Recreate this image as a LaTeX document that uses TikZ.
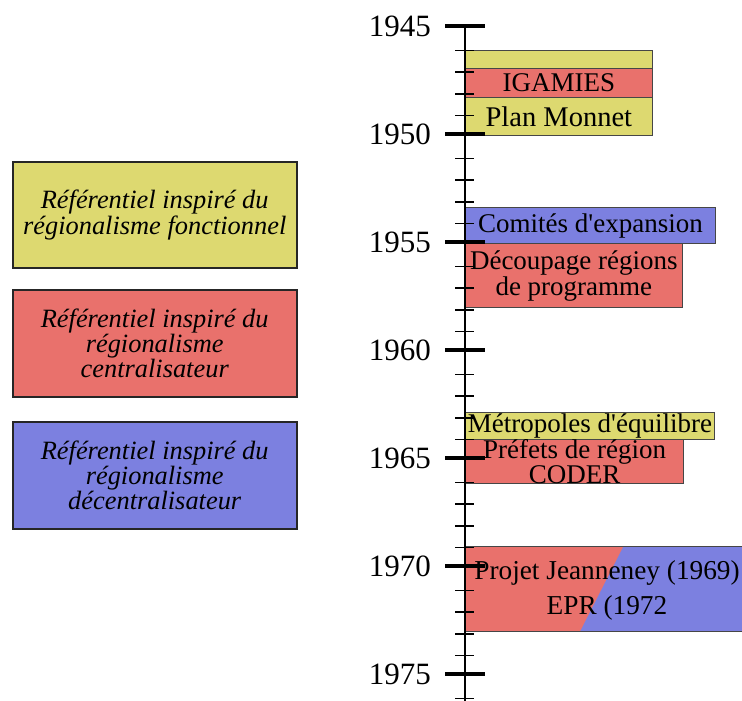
\documentclass[tikz,border=0pt]{standalone}
\usepackage{fontspec}
\setmainfont{Liberation Serif}
\definecolor{jaune}{RGB}{221,217,112}
\definecolor{rouge}{RGB}{233,113,108}
\definecolor{bleu}{RGB}{124,128,224}
\definecolor{bord}{RGB}{70,70,70}
\begin{document}
\begin{tikzpicture}[x=1pt,y=-1pt,
  tbox/.style={draw=bord, line width=1pt, inner sep=0pt, align=center, anchor=north west,
    font=\fontsize{27}{22}\selectfont},
  lbox/.style={draw=black!85, line width=1.8pt, inner sep=0pt, align=center,
    minimum width=284pt, minimum height=106.6pt, font=\fontsize{26.4}{21.7}\selectfont\itshape},
  year/.style={anchor=east, inner sep=0pt, font=\fontsize{31}{31}\selectfont},
  major/.style={line width=4pt},
  minor/.style={line width=1.5pt}]
\useasboundingbox (0,0) rectangle (742,701);
% legend boxes
\node[lbox, fill=jaune] (lf) at (154.7,215) {Référentiel inspiré du\\régionalisme fonctionnel};
\node[lbox, fill=rouge] (lc) at (154.7,343.3) {Référentiel inspiré du\\régionalisme\\centralisateur};
\node[lbox, fill=bleu] (ld) at (154.7,475.5) {Référentiel inspiré du\\régionalisme\\décentralisateur};
% timeline boxes
\node[tbox, fill=jaune, minimum width=186.7pt, minimum height=18.3pt] (y1) at (465,50) {};
\node[tbox, fill=rouge, minimum width=186.7pt, minimum height=28.4pt] (igamies) at (465,68.3) {IGAMIES};
\node[tbox, fill=jaune, minimum width=186.7pt, minimum height=38.3pt, font=\fontsize{28.5}{22}\selectfont] (monnet) at (465,96.7) {Plan Monnet};
\node[tbox, fill=bleu, minimum width=250pt, minimum height=36pt] (comites) at (465,207.3) {Comités d\textquotesingle expansion};
\node[tbox, fill=rouge, minimum width=216.7pt, minimum height=64pt] (decoupage) at (465,243.3) {Découpage régions\\de programme};
\node[tbox, fill=jaune, minimum width=249pt, minimum height=27.6pt] (metropoles) at (465,411.7) {Métropoles d\textquotesingle équilibre};
\node[tbox, fill=rouge, minimum width=218.3pt, minimum height=43.4pt] (prefets) at (465,439.3) {Préfets de région\\CODER};
% split box
\fill[rouge] (465,546.7) rectangle (750,631.7);
\fill[bleu] (623.3,546.7) -- (750,546.7) -- (750,631.7) -- (580,631.7) -- cycle;
\draw[bord, line width=1pt] (465,546.7) rectangle (750,631.7);
\node[inner sep=0pt, align=center, font=\fontsize{27.3}{35}\selectfont] (jeanneney) at (607,590.8)
  {Projet Jeanneney (1969)\\EPR (1972};
% axis
\draw[line width=2pt] (465,26) -- (465,701);
\foreach \k in {1,...,31}{
  \pgfmathtruncatemacro{\r}{mod(\k,5)}
  \ifnum\r>0 \draw[minor] (455,29+21.6*\k) -- (474,29+21.6*\k);\fi
}
\foreach \i/\yr in {0/1945,1/1950,2/1955,3/1960,4/1965,5/1970,6/1975}{
  \draw[major] (445,26+108*\i) -- (485,26+108*\i);
  \node[year] (y\yr) at (431,26+108*\i) {\yr};
}
\end{tikzpicture}
\end{document}
